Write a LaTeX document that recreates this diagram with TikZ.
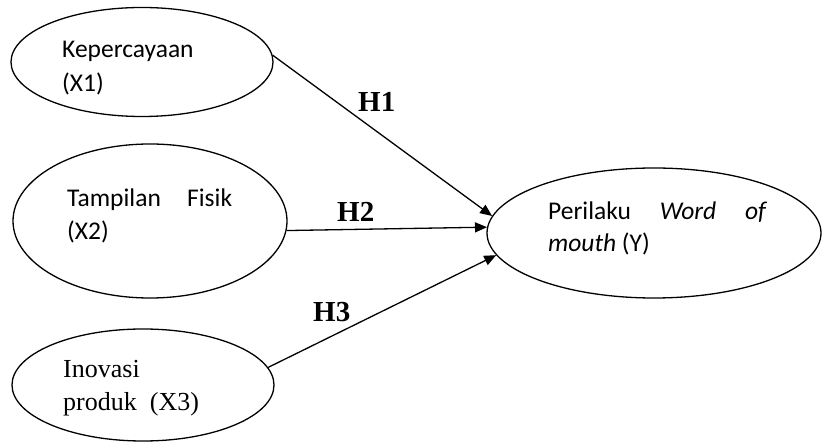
\documentclass[tikz,border=0pt]{standalone}
\usepackage{fontspec}
\setmainfont{Liberation Serif}
\newfontfamily\calib{Carlito}
\usetikzlibrary{shapes.geometric,arrows.meta}
\begin{document}
\begin{tikzpicture}[x=1pt,y=-1pt,
  oval/.style={draw,ellipse,line width=1.3pt,inner sep=0pt},
  sanslbl/.style={anchor=base west,inner sep=0pt,font=\calib\fontsize{25.5}{30}\selectfont},
  seriflbl/.style={anchor=base west,inner sep=0pt,font=\fontsize{26}{30}\selectfont},
  hlbl/.style={anchor=base west,inner sep=0pt,font=\bfseries\fontsize{29}{32}\selectfont},
  arr/.style={line width=1.3pt,-{Triangle[length=12pt,width=10pt]}}]
\useasboundingbox (0,0) rectangle (822,443);
\node[oval,minimum width=262pt,minimum height=109pt] (e1) at (142,62) {};
\node[oval,minimum width=274pt,minimum height=154pt] (e2) at (150,221) {};
\node[oval,minimum width=262pt,minimum height=112pt] (e3) at (143,385) {};
\node[oval,minimum width=334pt,minimum height=130pt] (y) at (654,233) {};
\node[sanslbl] (t1a) at (62,58) {Kepercayaan};
\node[sanslbl] (t1b) at (62,92) {(X1)};
\node[sanslbl] (t2a) at (67,207) {\makebox[165pt][s]{Tampilan\hfill Fisik}};
\node[sanslbl] (t2b) at (67,240) {(X2)};
\node[seriflbl] (t3a) at (63,378) {Inovasi};
\node[seriflbl] (t3b) at (63,410) {produk\ \ (X3)};
\node[sanslbl] (tya) at (548,220) {\makebox[219pt][s]{Perilaku\hfill\textit{Word}\hfill\textit{of}}};
\node[sanslbl] (tyb) at (548,252) {\textit{mouth} (Y)};
\draw[arr] (e1.3) -- (y.174);
\draw[arr] (e2.-4) -- (y.178);
\draw[arr] (e3.8) -- (y.188);
\node[hlbl] (h1) at (358,112) {H1};
\node[hlbl] (h2) at (337,222) {H2};
\node[hlbl] (h3) at (313,322) {H3};
\end{tikzpicture}
\end{document}
